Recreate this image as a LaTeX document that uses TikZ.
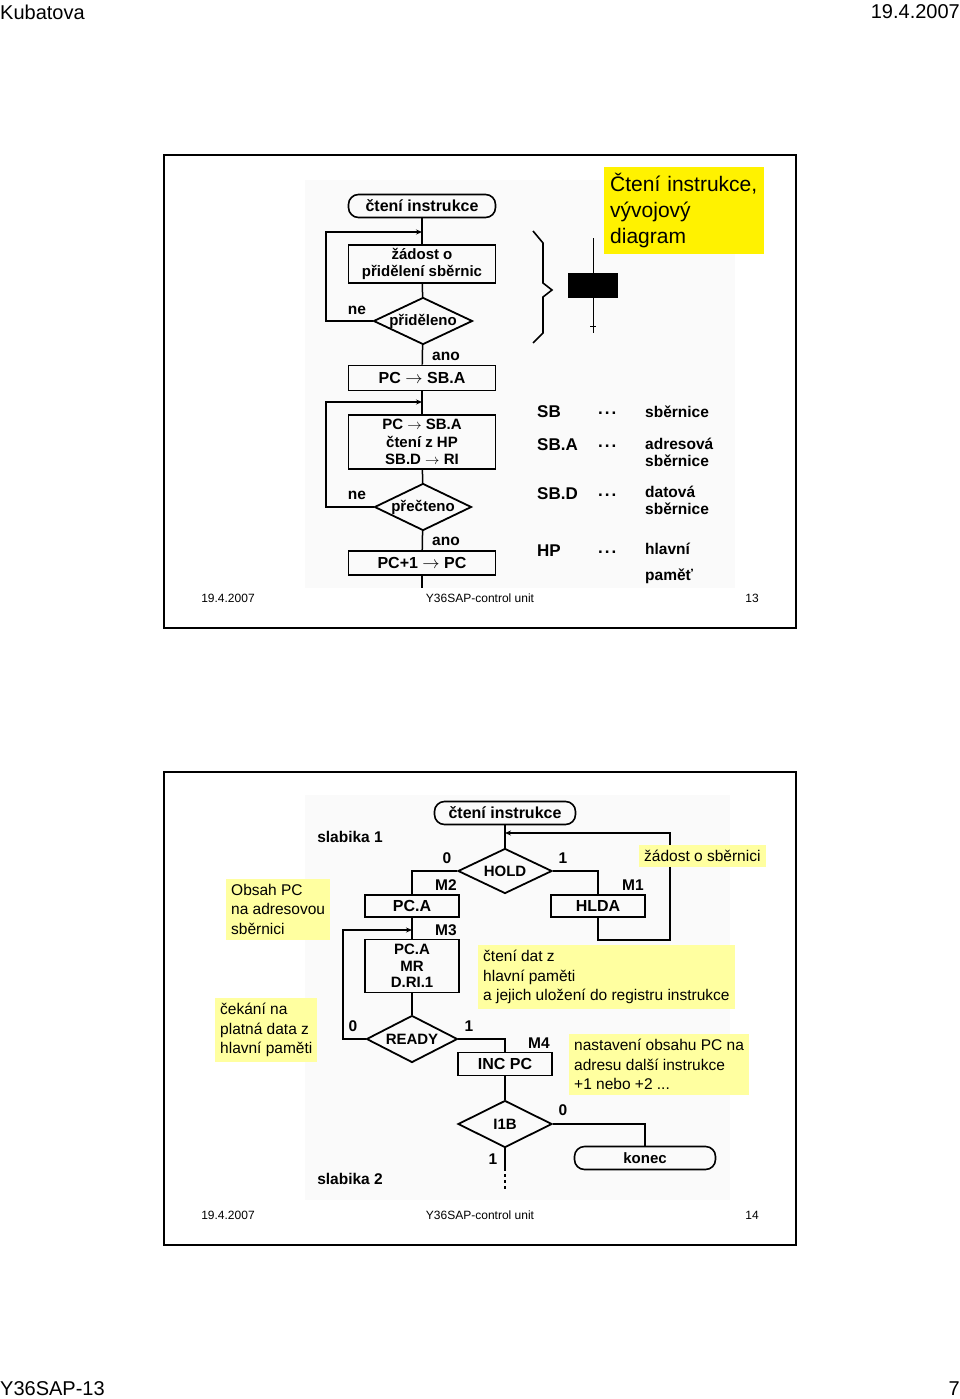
\documentclass[tikz,border=0pt]{standalone}
\usepackage{fontspec}
\setmainfont{Liberation Sans}
\usetikzlibrary{shapes.geometric,arrows.meta}
\definecolor{poznka}{RGB}{255,255,160}
\tikzset{
  blok/.style={draw,line width=1.8pt,minimum width=147pt,minimum height=25pt,inner sep=0pt,align=center,font=\fontsize{16}{17.5}\selectfont\bfseries},
  blokb/.style={blok,minimum width=94pt,minimum height=22pt},
  rozhod/.style={draw,diamond,aspect=2.2,line width=1.8pt,minimum width=97pt,minimum height=47pt,inner sep=0pt,font=\fontsize{15}{16}\selectfont\bfseries},
  term/.style={draw,rectangle,rounded corners=10pt,line width=1.6pt,minimum width=147pt,minimum height=23pt,inner sep=0pt,font=\fontsize{16}{17}\selectfont\bfseries},
  popis/.style={font=\fontsize{15.5}{17}\selectfont\bfseries,inner sep=0pt},
  legenda/.style={font=\fontsize{17}{19}\selectfont\bfseries,inner sep=0pt,anchor=west,align=left},
  pozn/.style={fill=poznka,anchor=north west,align=left,inner sep=5pt,font=\fontsize{15.5}{19.5}\selectfont},
  spoj/.style={line width=1.5pt},
  sipka/.style={line width=1.5pt,-{Stealth[length=6pt,width=5pt]}},
  zapati/.style={font=\fontsize{12}{14}\selectfont,inner sep=0pt}
}
\begin{document}
\begin{tikzpicture}[x=1pt,y=-1pt]
\useasboundingbox (0,0) rectangle (960,1399);

% headers
\node[anchor=west,inner sep=0pt,font=\fontsize{20}{22}\selectfont] (hl) at (0,12) {Kubatova};
\node[anchor=east,inner sep=0pt,font=\fontsize{20}{22}\selectfont] (hp) at (960,12) {19.4.2007};
\node[anchor=west,inner sep=0pt,font=\fontsize{20}{22}\selectfont] (dl) at (0,1389) {Y36SAP-13};
\node[anchor=east,inner sep=0pt,font=\fontsize{20}{22}\selectfont] (dp) at (960,1389) {7};

%slide 13
\draw[line width=2pt] (164,155) rectangle (796,628);
\fill[black!2] (305,180) rectangle (735,588);
\node[zapati] (d13) at (228,598) {19.4.2007};
\node[zapati] (n13) at (480,598) {Y36SAP-control unit};
\node[zapati] (c13) at (752,598) {13};

\node[term] (cti) at (422,206) {čtení instrukce};
\node[blok,minimum height=38pt,font=\fontsize{15}{16.5}\selectfont\bfseries] (zad) at (422,264) {žádost o\\přidělení sběrnic};
\node[rozhod] (prid) at (423,321) {přiděleno};
\node[blok] (pcsba) at (422,378) {PC $\rightarrow$ SB.A};
\node[blok,minimum height=54pt,font=\fontsize{15}{17.5}\selectfont\bfseries] (cthp) at (422,442) {PC $\rightarrow$ SB.A\\čtení z HP\\SB.D $\rightarrow$ RI};
\node[rozhod] (prec) at (423,507) {přečteno};
\node[blok,minimum height=24pt] (pcinc) at (422,563) {PC+1 $\rightarrow$ PC};
\coordinate (dol1) at (422,588);

\node[popis] (ne1) at (357,310) {ne};
\node[popis] (ano1) at (446,356) {ano};
\node[popis] (ne2) at (357,495) {ne};
\node[popis] (ano2) at (446,541) {ano};

\draw[spoj] (cti) -- (zad);
\draw[spoj] (zad) -- (prid);
\draw[spoj] (prid) -- (pcsba);
\draw[spoj] (pcsba) -- (cthp);
\draw[spoj] (cthp) -- (prec);
\draw[spoj] (prec) -- (pcinc);
\draw[spoj] (pcinc) -- (dol1);

%ne -> zadost
\coordinate (s1) at (422,232);
\coordinate (l1) at (326,232);
\draw[sipka] (prid.west) -| (l1) -- (s1);

%ne -> cteni
\coordinate (s2) at (422,402);
\coordinate (l2) at (326,402);
\draw[sipka] (prec.west) -| (l2) -- (s2);

%brace and bus symbol
\draw[line width=1.6pt] (533,231) -- (543,243) -- (543,283) -- (552,290) -- (543,297) -- (543,333) -- (533,343);
\node[fill=black,minimum width=50pt,minimum height=25pt,inner sep=0pt] (sym) at (593,285.5) {};
\coordinate (sh) at (593,238);
\coordinate (sd) at (593,333);
\draw[line width=1pt] (sh) -- (sym.north);
\draw[line width=1pt] (sym.south) -- (sd);
\draw[line width=1pt] (590,326) -- (596,326);

\node[fill=yellow,anchor=north west,minimum width=160pt,minimum height=82pt,inner sep=6pt,align=left,text width=148pt,font=\fontsize{21}{26}\selectfont] (nadp) at (604,167) {Čtení instrukce,\\vývojový\\diagram};

%legend
\node[legenda] (lsb) at (537,412) {SB};
\node[legenda] (lsba) at (537,445) {SB.A};
\node[legenda] (lsbd) at (537,494) {SB.D};
\node[legenda] (lhp) at (537,551) {HP};
\foreach \y in {413,446,495,552} \node[legenda] at (598,\y) {.\kern2pt.\kern2pt.};
\node[legenda,font=\fontsize{15.5}{17}\selectfont\bfseries] (tsb) at (645,412) {sběrnice};
\node[legenda,font=\fontsize{15.5}{17}\selectfont\bfseries,anchor=north west] (tsba) at (645,438) {adresová\\sběrnice};
\node[legenda,font=\fontsize{15.5}{17}\selectfont\bfseries,anchor=north west] (tsbd) at (645,486) {datová\\sběrnice};
\node[legenda,font=\fontsize{15.5}{26}\selectfont\bfseries,anchor=north west] (thp) at (645,543) {hlavní\\paměť};

%slide 14
\draw[line width=2pt] (164,772) rectangle (796,1245);
\fill[black!2] (305,795) rectangle (730,1200);
\node[zapati] (d14) at (228,1215) {19.4.2007};
\node[zapati] (n14) at (480,1215) {Y36SAP-control unit};
\node[zapati] (c14) at (752,1215) {14};

\node[term,minimum width=141pt] (cti2) at (505,813) {čtení instrukce};
\node[rozhod,minimum width=94pt,minimum height=45pt] (hold) at (505,871) {HOLD};
\node[blokb] (pca) at (412,906) {PC.A};
\node[blokb] (hlda) at (598,906) {HLDA};
\node[blokb,minimum height=53pt,font=\fontsize{15}{16.5}\selectfont\bfseries] (pcamr) at (412,966) {PC.A\\MR\\D.RI.1};
\node[rozhod,minimum width=91pt,minimum height=47pt] (ready) at (412,1039) {READY};
\node[blokb,minimum height=23pt] (incpc) at (505,1064) {INC PC};
\node[rozhod,minimum width=94pt,minimum height=47pt] (iib) at (505,1124) {I1B};
\node[term,minimum width=141pt,font=\fontsize{15}{16}\selectfont\bfseries] (kon) at (645,1158) {konec};

\node[popis] (sl1) at (350,837) {slabika 1};
\node[popis] (sl2) at (350,1179) {slabika 2};
\node[popis] (h0) at (447,858) {0};
\node[popis] (h1) at (563,858) {1};
\node[popis] (m2) at (446,885) {M2};
\node[popis] (m1) at (633,885) {M1};
\node[popis] (m3) at (446,930) {M3};
\node[popis] (r0) at (353,1026) {0};
\node[popis] (r1) at (469,1026) {1};
\node[popis] (m4) at (539,1043) {M4};
\node[popis] (i0) at (563,1110) {0};
\node[popis] (i1) at (493,1159) {1};

\draw[spoj] (cti2) -- (hold);
%HOLD->PC.A, HOLD->HLDA
\draw[spoj] (hold.west) -| (pca.north);
\draw[spoj] (hold.east) -| (hlda.north);
%HLDA->HOLD
\coordinate (k1) at (670,940);
\coordinate (k2) at (670,833);
\coordinate (k3) at (505,833);
\draw[sipka] (hlda.south) |- (k1) -- (k2) -- (k3);
\draw[spoj] (pca) -- (pcamr);
\draw[spoj] (pcamr) -- (ready);
%READY 0 -> M3
\coordinate (q1) at (343,930);
\coordinate (q2) at (412,930);
\draw[sipka] (ready.west) -| (q1) -- (q2);
%READY 1 -> INC PC
\draw[spoj] (ready.east) -| (incpc.north);
\draw[spoj] (incpc) -- (iib);
\draw[spoj] (iib.east) -| (kon.north);
\coordinate (e1) at (505,1168);
\coordinate (e2) at (505,1191);
\draw[spoj] (iib.south) -- (e1);
\draw[spoj,dashed] (e1) -- (e2);

%notes
\node[pozn] (nzad) at (639,845) {žádost o sběrnici};
\node[pozn] (nobs) at (226,879) {Obsah PC\\na adresovou\\sběrnici};
\node[pozn] (ncte) at (478,945) {čtení dat z\\hlavní paměti\\a jejich uložení do registru instrukce};
\node[pozn] (ncek) at (215,998) {čekání na\\platná data z\\hlavní paměti};
\node[pozn] (nnas) at (569,1034) {nastavení obsahu PC na\\adresu další instrukce\\+1 nebo +2 ...};

\end{tikzpicture}
\end{document}
